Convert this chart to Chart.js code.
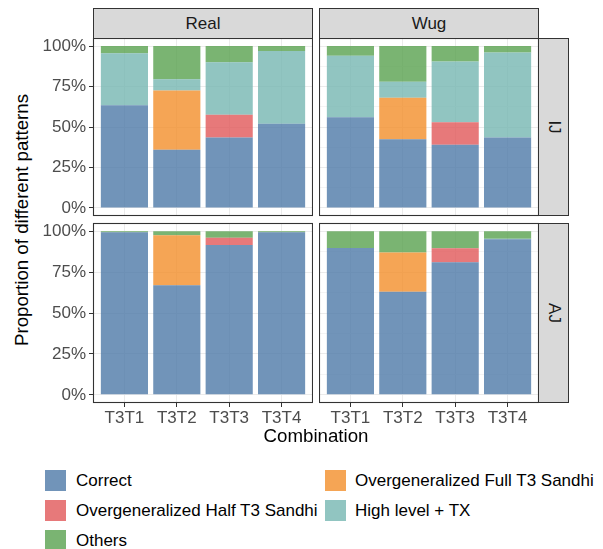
<!DOCTYPE html>
<html>
<head>
<meta charset="utf-8">
<script src="https://cdn.jsdelivr.net/npm/chart.js@4.4.1/dist/chart.umd.min.js"></script>
<style>
  body { margin: 0; background: #fff; font-family: "Liberation Sans", Arial, sans-serif; }
  #fig { position: relative; width: 603px; height: 549px; overflow: hidden; }
  canvas { position: absolute; }
  .strip { position: absolute; box-sizing: border-box; background: #d9d9d9; border: 1px solid #333;
           color: #1a1a1a; font-size: 17px; font-weight: normal; display: flex; align-items: center; justify-content: center; }
  .strip.side span { display: inline-block; transform: rotate(90deg); }
  .title { position: absolute; color: #000; font-size: 18.7px; line-height: 22px; text-align: center; white-space: nowrap; }
  .key { position: absolute; width: 21px; height: 21px; }
  .keytext { position: absolute; font-size: 17px; line-height: 21px; color: #000; white-space: nowrap; }
</style>
</head>
<body>
<div id="fig">
  <canvas id="realIJ" width="273" height="198" style="left:40px;top:28px;width:273px;height:198px"></canvas>
  <canvas id="wugIJ" width="220" height="198" style="left:319px;top:28px;width:220px;height:198px"></canvas>
  <canvas id="realAJ" width="273" height="218" style="left:40px;top:213px;width:273px;height:218px"></canvas>
  <canvas id="wugAJ" width="220" height="218" style="left:319px;top:213px;width:220px;height:218px"></canvas>

  <div class="strip" style="left:93px;top:8px;width:220px;height:31px">Real</div>
  <div class="strip" style="left:319px;top:8px;width:220px;height:31px">Wug</div>
  <div class="strip side" style="left:538px;top:38px;width:31px;height:178px"><span>IJ</span></div>
  <div class="strip side" style="left:538px;top:223px;width:31px;height:180px"><span>AJ</span></div>

  <div class="title" style="left:-178px;top:209px;width:400px;transform:rotate(-90deg)">Proportion of different patterns</div>
  <div class="title" style="left:93px;top:425px;width:446px">Combination</div>
  <div id="legend"></div>
</div>
<script>
const combinations = ["T3T1", "T3T2", "T3T3", "T3T4"];
const seriesNames = ["Correct", "Overgeneralized Full T3 Sandhi", "Overgeneralized Half T3 Sandhi", "High level + TX", "Others"];
const seriesColors = ["rgba(78,121,167,0.8)", "rgba(242,142,43,0.8)", "rgba(225,87,89,0.8)", "rgba(118,183,178,0.8)", "rgba(89,161,79,0.8)"];

// Real / IJ (percent)
const realIJCorrect = [63.5, 36, 43.5, 52];
const realIJFull    = [0, 36.5, 0, 0];
const realIJHalf    = [0, 0, 14, 0];
const realIJHigh    = [32, 7, 32.5, 45];
const realIJOthers  = [4.5, 20.5, 10, 3];

// Wug / IJ
const wugIJCorrect = [56, 42.5, 39, 43.5];
const wugIJFull    = [0, 25.5, 0, 0];
const wugIJHalf    = [0, 0, 14, 0];
const wugIJHigh    = [38, 10, 37.5, 52.5];
const wugIJOthers  = [6, 22, 9.5, 4];

// Real / AJ
const realAJCorrect = [99.4, 67, 91.5, 99.4];
const realAJFull    = [0, 30.5, 0, 0];
const realAJHalf    = [0, 0, 4.5, 0];
const realAJHigh    = [0, 0, 0, 0];
const realAJOthers  = [0.6, 2.5, 4, 0.6];

// Wug / AJ
const wugAJCorrect = [89.7, 63, 81, 95];
const wugAJFull    = [0, 24, 0, 0];
const wugAJHalf    = [0, 0, 8.5, 0];
const wugAJHigh    = [0, 0, 0, 0.3];
const wugAJOthers  = [10.3, 13, 10.5, 4.7];

const yMajorTicks = [0, 25, 50, 75, 100];
const yMinorTicks = [12.5, 37.5, 62.5, 87.5];

const fontFamily = '"Liberation Sans", Arial, sans-serif';

// panel border like theme_bw
const borderPlugin = {
  id: "panelBorder",
  afterDraw(chart) {
    const { ctx, chartArea: a } = chart;
    ctx.save();
    ctx.strokeStyle = "#333";
    ctx.lineWidth = 1.1;
    ctx.strokeRect(a.left + 0.5, a.top + 0.5, a.right - a.left - 1, a.bottom - a.top - 1);
    ctx.restore();
  }
};

function makePanel(id, values, showY, showX) {
  const datasets = values.map((vals, i) => ({
    label: seriesNames[i],
    data: vals.map((v, j) => ({ x: j + 1, y: v })),
    backgroundColor: seriesColors[i],
    borderWidth: 0,
    barPercentage: 0.9,
    categoryPercentage: 1
  }));
  const isMajor = v => yMajorTicks.includes(v);

  return new Chart(document.getElementById(id), {
    type: "bar",
    data: { datasets },
    options: {
      responsive: false,
      animation: false,
      layout: { padding: { top: 10, bottom: showX ? 0 : 10, left: 0, right: 0 } },
      plugins: { legend: { display: false }, tooltip: { enabled: false } },
      scales: {
        x: {
          type: "linear",
          min: 0.4,
          max: 4.6,
          offset: false,
          stacked: true,
          afterBuildTicks: s => { s.ticks = combinations.map((c, i) => ({ value: i + 1 })); },
          afterFit: s => { s.height = showX ? 28 : 0; s.paddingLeft = 0; s.paddingRight = 0; },
          border: { display: false },
          grid: { offset: false, color: "#ebebeb", lineWidth: 1, drawTicks: showX, tickLength: 4, tickColor: "#333" },
          ticks: {
            display: showX,
            autoSkip: false,
            maxRotation: 0,
            padding: 1,
            color: "#4d4d4d",
            font: { family: fontFamily, size: 17 },
            callback: v => combinations[Math.round(v) - 1]
          }
        },
        y: {
          min: -5,
          max: 105,
          stacked: true,
          afterBuildTicks: s => {
            s.ticks = yMajorTicks.concat(yMinorTicks).sort((a, b) => a - b).map(v => ({ value: v }));
          },
          afterFit: s => { s.width = showY ? 53 : 0; s.paddingTop = 0; s.paddingBottom = 0; },
          border: { display: false },
          grid: {
            color: c => isMajor(c.tick.value) ? "#ebebeb" : "#f4f4f4",
            lineWidth: 1,
            drawTicks: showY,
            tickLength: 4,
            tickColor: c => isMajor(c.tick.value) ? "#333" : "rgba(0,0,0,0)"
          },
          ticks: {
            display: showY,
            padding: 3,
            color: "#4d4d4d",
            font: { family: fontFamily, size: 17 },
            callback: v => isMajor(v) ? v + "%" : ""
          }
        }
      }
    },
    plugins: [borderPlugin]
  });
}

makePanel("realIJ", [realIJCorrect, realIJFull, realIJHalf, realIJHigh, realIJOthers], true, false);
makePanel("wugIJ", [wugIJCorrect, wugIJFull, wugIJHalf, wugIJHigh, wugIJOthers], false, false);
makePanel("realAJ", [realAJCorrect, realAJFull, realAJHalf, realAJHigh, realAJOthers], true, true);
makePanel("wugAJ", [wugAJCorrect, wugAJFull, wugAJHalf, wugAJHigh, wugAJOthers], false, true);

// legend, two columns filled by row
const legend = document.getElementById("legend");
const legendX = [[45, 76], [325, 355]];
const legendY = [470, 500, 530];
seriesNames.forEach((name, i) => {
  const col = i % 2, row = Math.floor(i / 2);
  const key = document.createElement("div");
  key.className = "key";
  key.style.left = legendX[col][0] + "px";
  key.style.top = legendY[row] + "px";
  key.style.background = seriesColors[i];
  legend.appendChild(key);
  const txt = document.createElement("div");
  txt.className = "keytext";
  txt.style.left = legendX[col][1] + "px";
  txt.style.top = legendY[row] + "px";
  txt.textContent = name;
  legend.appendChild(txt);
});
</script>
</body>
</html>
